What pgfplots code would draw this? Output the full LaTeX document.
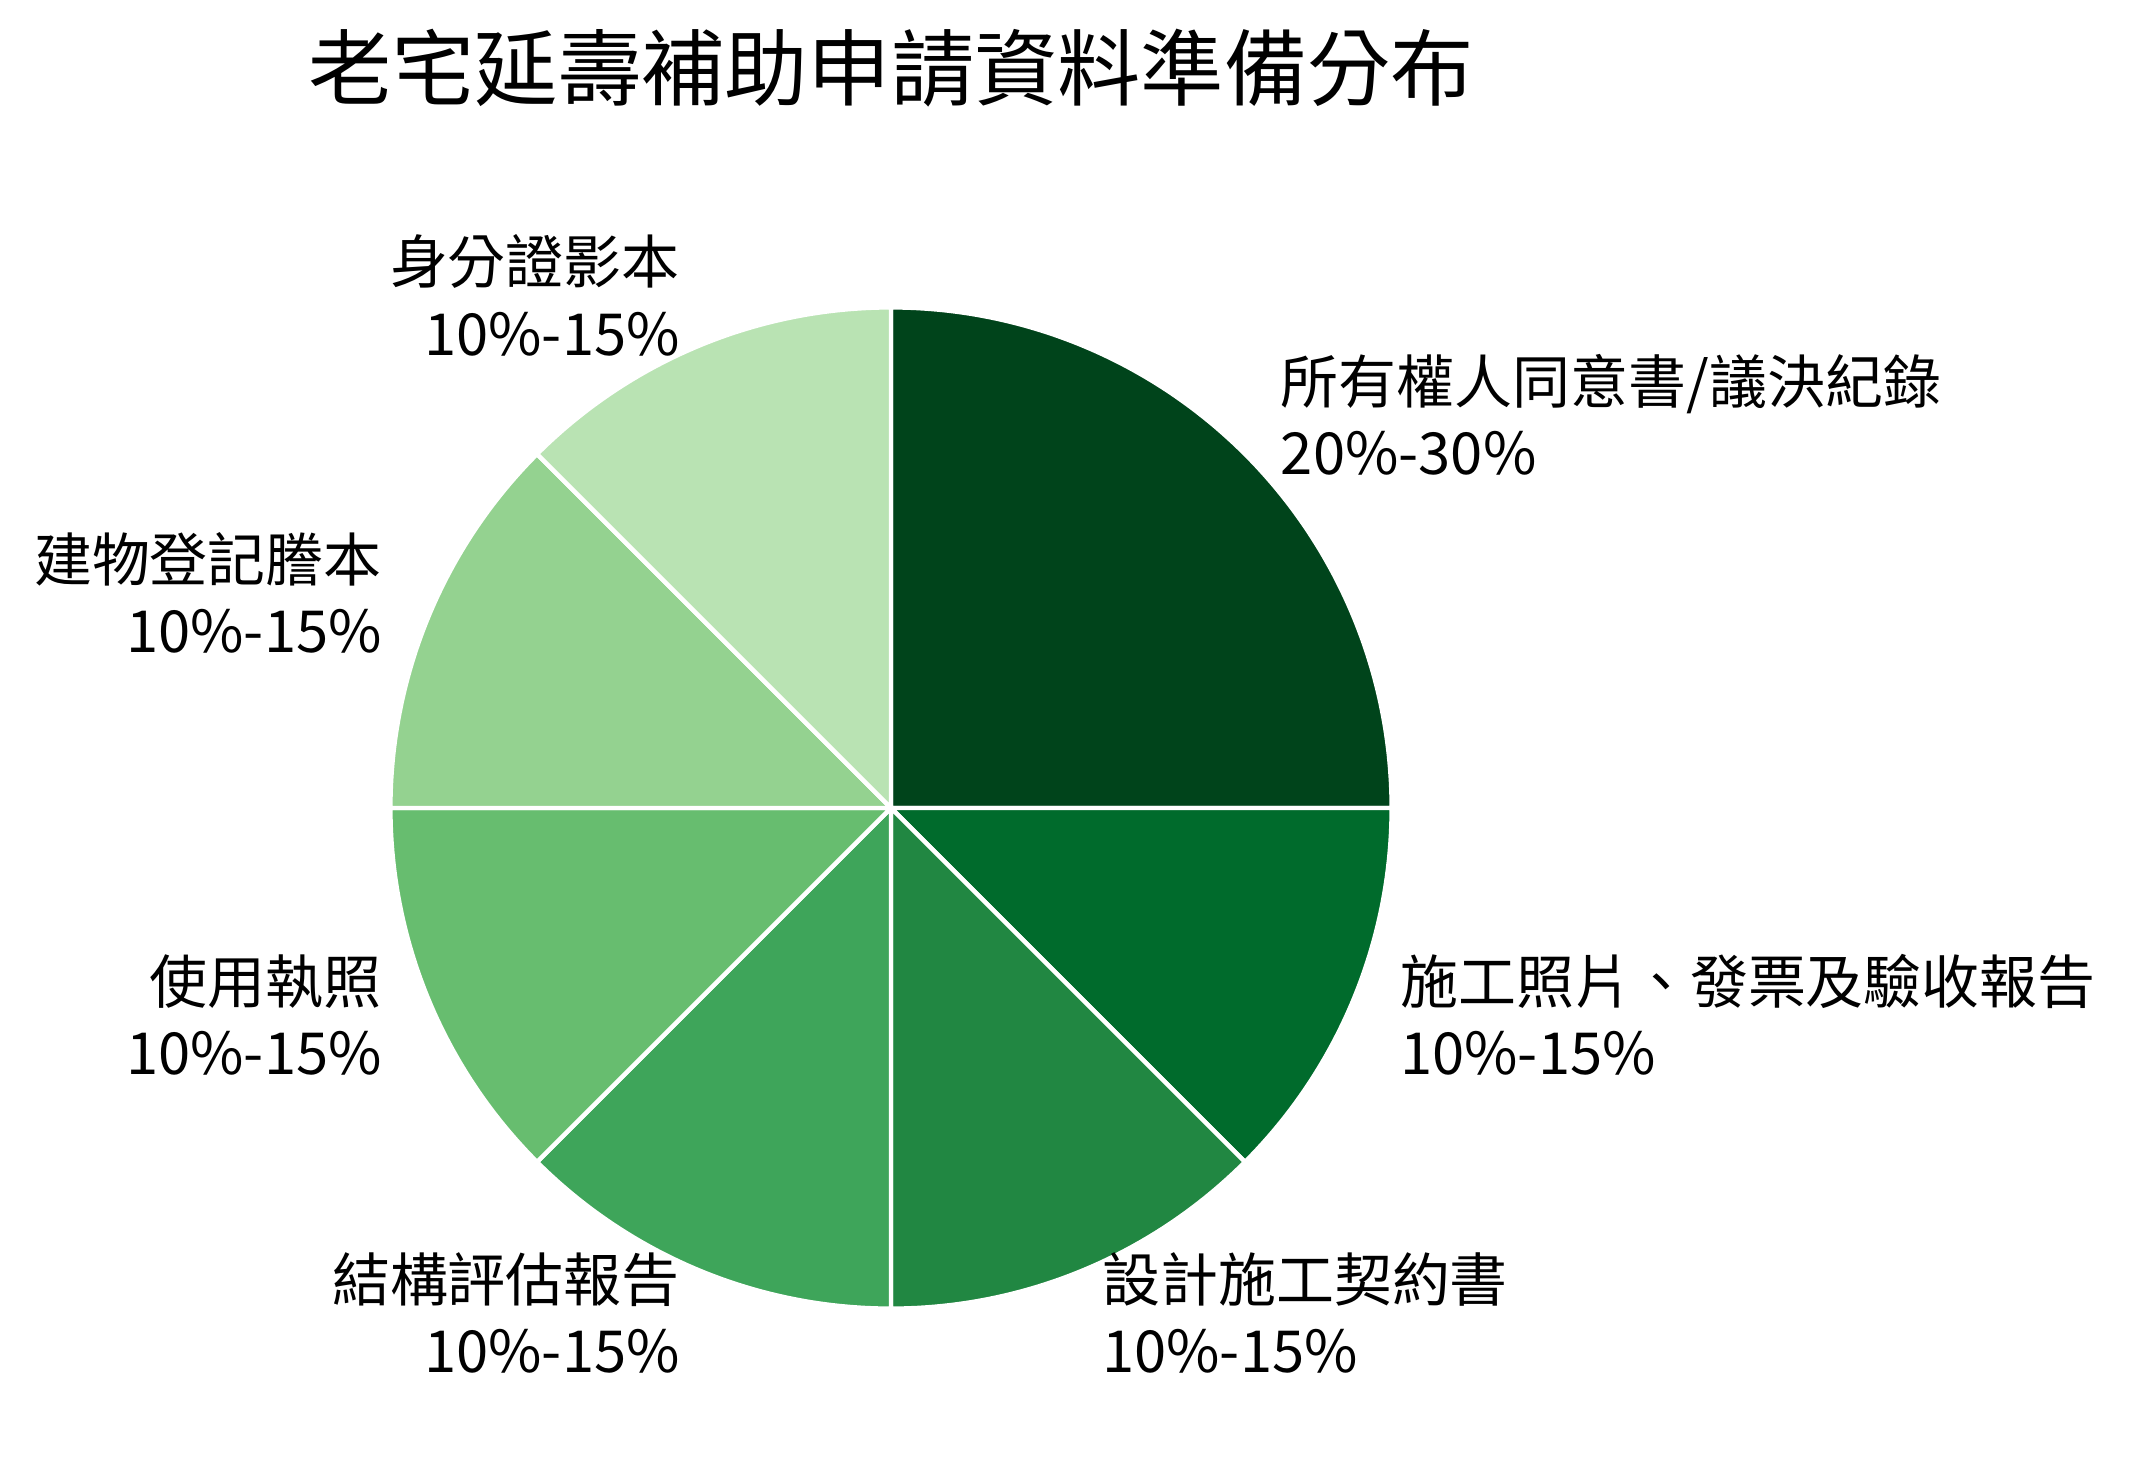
\documentclass[border=0pt]{standalone}
\usepackage{pgfplots}
\pgfplotsset{compat=1.18}
\usepackage{fontspec}
\newfontfamily\cjk{Noto Sans CJK TC}

\definecolor{g1}{HTML}{00441B}
\definecolor{g2}{HTML}{006B2C}
\definecolor{g3}{HTML}{218742}
\definecolor{g4}{HTML}{3EA55A}
\definecolor{g5}{HTML}{67BD6F}
\definecolor{g6}{HTML}{94D290}
\definecolor{g7}{HTML}{B9E3B3}

% pie centre and radius, in the axis' pixel units
\def\cx{655}
\def\cy{485}
\def\R{368}

% #1 share (percent), #2 colour, #3 label, #4 label anchor, #5 alignment
\newcommand\slice[5]{%
  \pgfmathsetmacro\aS{90-3.6*\cum}%
  \pgfmathsetmacro\aE{90-3.6*(\cum+#1)}%
  \pgfmathsetmacro\aM{(\aS+\aE)/2}%
  \pgfmathsetmacro\lx{\cx+1.1*\R*cos(\aM)}%
  \pgfmathsetmacro\ly{\cy+1.1*\R*sin(\aM)+3}%
  \edef\doit{%
    \noexpand\addplot[fill=#2, draw=white, line width=1.6pt, line join=round,
      domain=\aE:\aS, samples=120, variable=\noexpand\t]
      ({\cx+\R*cos(\noexpand\t)},{\cy+\R*sin(\noexpand\t)})
      -- (axis cs:\cx,\cy) -- cycle;
    \noexpand\node[anchor=#4, align=#5,
      font=\noexpand\cjk\noexpand\fontsize{21.3}{26.2}\noexpand\selectfont,
      inner sep=0pt] at (axis cs:\lx,\ly) {\unexpanded{#3}};}%
  \doit
  \pgfmathsetmacro\cum{\cum+#1}%
}

\begin{document}
\begin{tikzpicture}
\begin{axis}[
  scale only axis,
  width=784pt, height=539.5pt,
  xmin=0, xmax=1568, ymin=0, ymax=1079,
  hide axis, clip=false,
]
\def\cum{0}
\slice{25}{g1}{所有權人同意書/議決紀錄\\20\%-30\%}{west}{left}
\slice{12.5}{g2}{施工照片、發票及驗收報告\\10\%-15\%}{west}{left}
\slice{12.5}{g3}{設計施工契約書\\10\%-15\%}{west}{left}
\slice{12.5}{g4}{結構評估報告\\10\%-15\%}{east}{right}
\slice{12.5}{g5}{使用執照\\10\%-15\%}{east}{right}
\slice{12.5}{g6}{建物登記謄本\\10\%-15\%}{east}{right}
\slice{12.5}{g7}{身分證影本\\10\%-15\%}{east}{right}
\node[font=\cjk\fontsize{30.6}{36}\selectfont, inner sep=0pt]
  at (axis cs:655,1029) {老宅延壽補助申請資料準備分布};
\path (axis cs:0,0) rectangle (axis cs:1568,1079);
\end{axis}
\end{tikzpicture}
\end{document}
